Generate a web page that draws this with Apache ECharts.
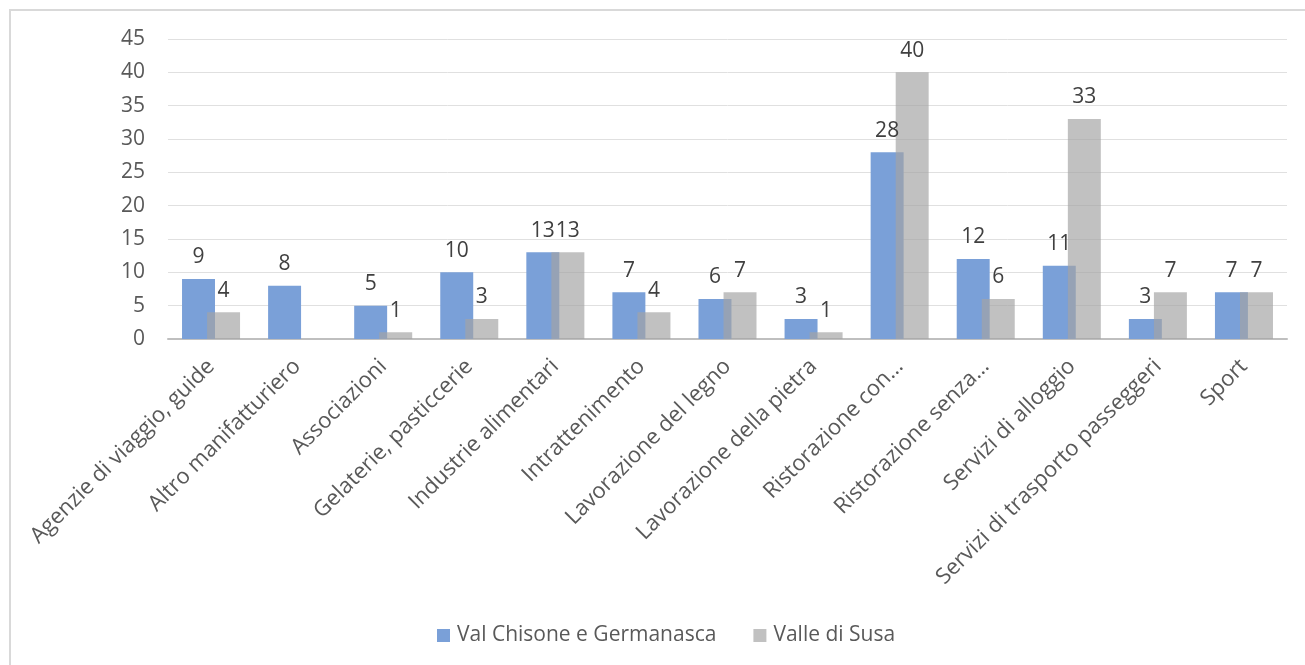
<!DOCTYPE html>
<html>
<head>
<meta charset="utf-8">
<script src="https://cdn.jsdelivr.net/npm/echarts@6/dist/echarts.min.js"></script>
<style>
  html, body { margin: 0; padding: 0; background: #fff; }
  #frame { position: absolute; left: 9px; top: 9px; width: 1310px; height: 670px;
           border-left: 2px solid #d9d9d9; border-top: 2px solid #d9d9d9; box-sizing: border-box; }
  #chart { position: absolute; left: 0; top: 0; width: 1305px; height: 665px; }
</style>
</head>
<body>
<div id="frame"></div>
<div id="chart"></div>
<script>
// Settori di attività
const categories = [
  'Agenzie di viaggio, guide',
  'Altro manifatturiero',
  'Associazioni',
  'Gelaterie, pasticcerie',
  'Industrie alimentari',
  'Intrattenimento',
  'Lavorazione del legno',
  'Lavorazione della pietra',
  'Ristorazione con…',
  'Ristorazione senza…',
  'Servizi di alloggio',
  'Servizi di trasporto passeggeri',
  'Sport'
];

const seriesNames = ['Val Chisone e Germanasca', 'Valle di Susa'];

const valChisone = [9, 8, 5, 10, 13, 7, 6, 3, 28, 12, 11, 3, 7];
const valleSusa  = [4, null, 1, 3, 13, 4, 7, 1, 40, 6, 33, 7, 7];

const yTicks = { min: 0, max: 45, interval: 5 };

const FONT = '"Open Sans", "Liberation Sans", sans-serif';
const FS = 21;

const chart = echarts.init(document.getElementById('chart'), null, { renderer: 'canvas' });

const labelStyle = {
  show: true,
  position: 'top',
  distance: 11,
  color: '#404040',
  fontSize: FS,
  fontFamily: FONT
};

chart.setOption({
  animation: false,
  backgroundColor: 'transparent',
  grid: { left: 168, right: 18, top: 39, bottom: 326, containLabel: false },
  legend: {
    bottom: 14,
    left: 432,
    itemWidth: 13,
    itemHeight: 13,
    itemGap: 37,
    icon: 'rect',
    textStyle: { color: '#595959', fontSize: FS, fontFamily: FONT, padding: [0, 0, 0, 2] },
    data: seriesNames
  },
  xAxis: {
    type: 'category',
    data: categories,
    axisLine: { show: true, lineStyle: { color: '#bfbfbf', width: 2 } },
    axisTick: { show: false },
    axisLabel: {
      rotate: 45,
      interval: 0,
      margin: 24,
      color: '#595959',
      fontSize: 22,
      fontFamily: FONT
    }
  },
  yAxis: {
    type: 'value',
    min: yTicks.min,
    max: yTicks.max,
    interval: yTicks.interval,
    axisLine: { show: false },
    axisTick: { show: false },
    splitLine: { lineStyle: { color: '#e0e0e0', width: 1 } },
    axisLabel: { margin: 23, color: '#595959', fontSize: FS, fontFamily: FONT }
  },
  series: [
    {
      name: seriesNames[0],
      type: 'bar',
      data: valChisone,
      barWidth: '38.3%',
      barGap: '-24%',
      itemStyle: { color: '#7aa0d8' },
      label: labelStyle
    },
    {
      name: seriesNames[1],
      type: 'bar',
      data: valleSusa,
      barWidth: '38.3%',
      itemStyle: { color: 'rgba(163,163,163,0.68)' },
      label: labelStyle
    }
  ]
});
</script>
</body>
</html>
